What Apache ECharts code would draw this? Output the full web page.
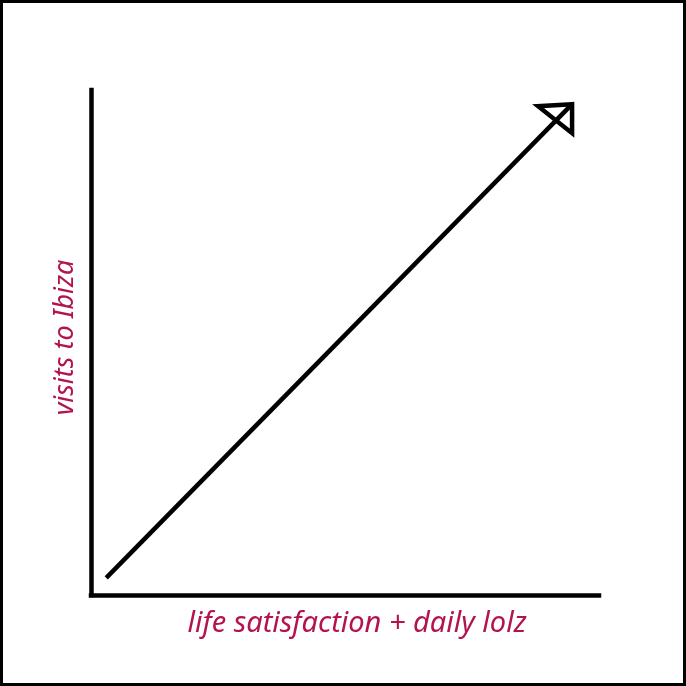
<!DOCTYPE html>
<html><head><meta charset="utf-8">
<script src="https://cdn.jsdelivr.net/npm/echarts@6/dist/echarts.min.js"></script>
<style>
html,body{margin:0;padding:0;background:#fff;}
#c{position:absolute;left:0;top:0;width:686px;height:686px;}
#b{position:absolute;left:0;top:0;width:686px;height:686px;box-sizing:border-box;border:3px solid #000;pointer-events:none;}
</style></head>
<body><div id="c"></div><div id="b"></div>
<script>
const xName = 'life satisfaction + daily lolz';
const yName = 'visits to Ibiza';
const xValues = [3, 94.7];   // start, tip
const yValues = [3.4, 97.2];
const labelColor = '#b3134f';

const chart = echarts.init(document.getElementById('c'));
chart.setOption({
  animation:false,
  grid:{left:91,right:87,top:90,bottom:91},
  xAxis:{type:'value',min:0,max:100,splitLine:{show:false},axisTick:{show:false},axisLabel:{show:false},
    axisLine:{show:true,onZero:false,lineStyle:{color:'#000',width:4.5,cap:'square'}},
    name:xName,nameLocation:'middle',nameGap:14,
    nameTextStyle:{color:labelColor,fontSize:29,fontFamily:'Noto Sans',fontStyle:'italic',padding:[0,0,0,24]}},
  yAxis:{type:'value',min:0,max:100,splitLine:{show:false},axisTick:{show:false},axisLabel:{show:false},
    axisLine:{show:true,onZero:false,lineStyle:{color:'#000',width:4.5,cap:'square'}},
    name:yName,nameLocation:'middle',nameGap:12,
    nameTextStyle:{color:labelColor,fontSize:27,fontFamily:'Noto Sans',fontStyle:'italic',padding:[0,0,0,10]}},
  series:[{
    type:'custom',
    data:[[xValues[0],yValues[0],xValues[1],yValues[1]]],
    renderItem:function(params,api){
      const p0 = api.coord([api.value(0),api.value(1)]);
      const p1 = api.coord([api.value(2),api.value(3)]);
      return {type:'group',children:[
        {type:'line',shape:{x1:p0[0],y1:p0[1],x2:p1[0],y2:p1[1]},style:{stroke:'#000',lineWidth:4.5}},
        {type:'polygon',shape:{points:[[p1[0],p1[1]],[p1[0]-34,p1[1]+2],[p1[0],p1[1]+29]]},
          style:{fill:'none',stroke:'#000',lineWidth:4.5,lineJoin:'miter'}}
      ]};
    }
  }]
});
</script></body></html>
